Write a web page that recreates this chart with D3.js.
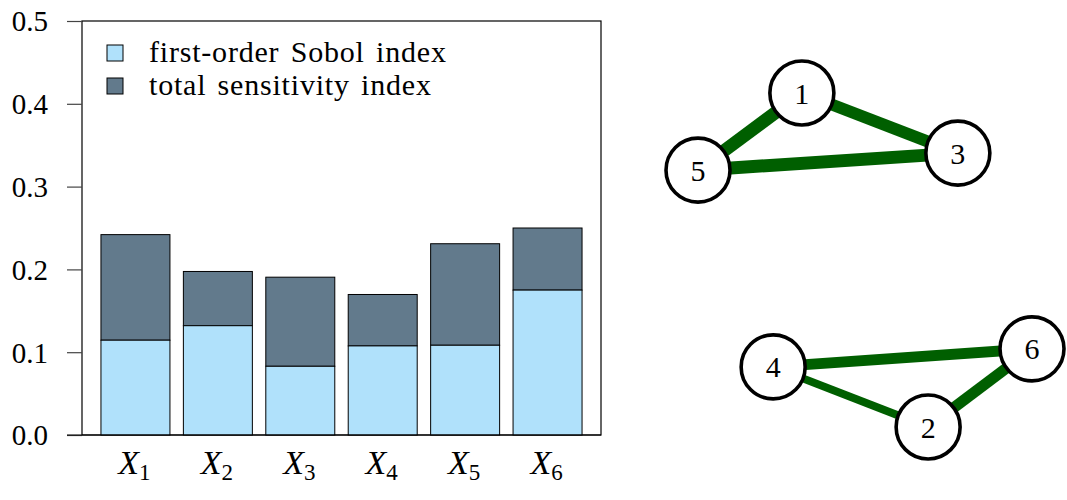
<!DOCTYPE html>
<html>
<head>
<meta charset="utf-8">
<script src="https://cdn.jsdelivr.net/npm/d3@7"></script>
<style>
  html, body { margin: 0; padding: 0; background: #fff; }
  svg { display: block; }
  text { font-family: "Liberation Serif", "DejaVu Serif", serif; fill: #000; }
</style>
</head>
<body>
<svg id="chart" width="1067" height="500"></svg>
<script>
// ---- data ----
const categories = ["1", "2", "3", "4", "5", "6"];
const firstOrder = [0.1145, 0.132, 0.083, 0.1076, 0.1084, 0.175];
const totalIndex = [0.242, 0.1975, 0.1906, 0.1697, 0.231, 0.250];
const yTicks = [0.0, 0.1, 0.2, 0.3, 0.4, 0.5];
const legendLabels = ["first-order Sobol index", "total sensitivity index"];

const nodeIds = [1, 2, 3, 4, 5, 6];
const nodeLayoutX = [0.311, 0.689, 0.778, 0.225, 0.0, 1.0];
const nodeLayoutY = [0.0, 1.0, 0.180, 0.820, 0.231, 0.766];
const edgeSource = [1, 1, 5, 4, 4, 2];
const edgeTarget = [5, 3, 3, 6, 2, 6];
const edgeWeight = [0.13, 0.12, 0.13, 0.11, 0.08, 0.11];

// ---- styles ----
const lightBlue = "#b0e1fb";
const slate = "#627a8c";
const green = "#005f00";

const svg = d3.select("#chart");

// ---- bar chart ----
const plot = { left: 82, right: 601, top: 21, bottom: 435 };

const x = d3.scaleBand()
  .domain(categories)
  .range([plot.left, plot.right])
  .paddingInner(0.163)
  .paddingOuter(0.23);

const y = d3.scaleLinear()
  .domain([0, 0.5])
  .range([plot.bottom, plot.top]);

// frame
svg.append("rect")
  .attr("x", plot.left).attr("y", plot.top)
  .attr("width", plot.right - plot.left)
  .attr("height", plot.bottom - plot.top)
  .attr("fill", "none").attr("stroke", "#000").attr("stroke-width", 1.2);

// y axis
const yAxis = d3.axisLeft(y)
  .tickValues(yTicks)
  .tickFormat(d3.format(".1f"))
  .tickSize(15)
  .tickPadding(19);

const yg = svg.append("g")
  .attr("transform", `translate(${plot.left},0)`)
  .call(yAxis);
yg.select(".domain").remove();
yg.selectAll(".tick line").attr("stroke", "#444").attr("stroke-width", 1.2);
yg.selectAll(".tick text")
  .attr("font-size", 29)
  .attr("font-family", "Liberation Serif, DejaVu Serif, serif")
  .attr("dy", "0.34em");

const bars = svg.append("g");
categories.forEach((c, i) => {
  bars.append("rect")
    .attr("x", x(c)).attr("width", x.bandwidth())
    .attr("y", y(totalIndex[i]))
    .attr("height", y(firstOrder[i]) - y(totalIndex[i]))
    .attr("fill", slate).attr("stroke", "#000").attr("stroke-width", 1);
  bars.append("rect")
    .attr("x", x(c)).attr("width", x.bandwidth())
    .attr("y", y(firstOrder[i]))
    .attr("height", y(0) - y(firstOrder[i]))
    .attr("fill", lightBlue).attr("stroke", "#000").attr("stroke-width", 1);
});

svg.append("line")
  .attr("x1", plot.left - 15).attr("x2", plot.right)
  .attr("y1", plot.bottom).attr("y2", plot.bottom)
  .attr("stroke", "#000").attr("stroke-width", 1.2);

// x labels
const xl = svg.append("g");
categories.forEach(c => {
  const t = xl.append("text")
    .attr("x", x(c) + x.bandwidth() / 2 - 1)
    .attr("y", 474)
    .attr("text-anchor", "middle")
    .attr("font-size", 34);
  t.append("tspan").attr("font-style", "italic").text("X");
  t.append("tspan").attr("font-size", 23).attr("dy", 6).text(c);
});

// legend
const legend = svg.append("g");
const legColors = [lightBlue, slate];
legendLabels.forEach((lab, i) => {
  const ly = 45 + i * 33;
  legend.append("rect")
    .attr("x", 107).attr("y", ly).attr("width", 16).attr("height", 16)
    .attr("fill", legColors[i]).attr("stroke", "#000").attr("stroke-width", 1);
  legend.append("text")
    .attr("x", 149).attr("y", ly + 17)
    .attr("font-size", 30)
    .attr("letter-spacing", 0.8)
    .attr("word-spacing", 3)
    .text(lab);
});

// ---- graph ----
const gx = d3.scaleLinear().domain([0, 1]).range([698, 1032]);
const gy = d3.scaleLinear().domain([0, 1]).range([93, 427]);
const wScale = d3.scaleLinear().domain([0, 0.14]).range([0, 14]);

const nodePos = {};
nodeIds.forEach((id, i) => { nodePos[id] = [gx(nodeLayoutX[i]), gy(nodeLayoutY[i])]; });

const graph = svg.append("g");
edgeSource.forEach((s, i) => {
  const a = nodePos[s], b = nodePos[edgeTarget[i]];
  graph.append("line")
    .attr("x1", a[0]).attr("y1", a[1]).attr("x2", b[0]).attr("y2", b[1])
    .attr("stroke", green).attr("stroke-width", wScale(edgeWeight[i]));
});
nodeIds.forEach(id => {
  const p = nodePos[id];
  graph.append("circle")
    .attr("cx", p[0]).attr("cy", p[1]).attr("r", 32)
    .attr("fill", "#fff").attr("stroke", "#000").attr("stroke-width", 3.6);
  graph.append("text")
    .attr("x", p[0]).attr("y", p[1])
    .attr("text-anchor", "middle").attr("dy", "0.35em")
    .attr("font-size", 30)
    .text(id);
});
</script>
</body>
</html>
